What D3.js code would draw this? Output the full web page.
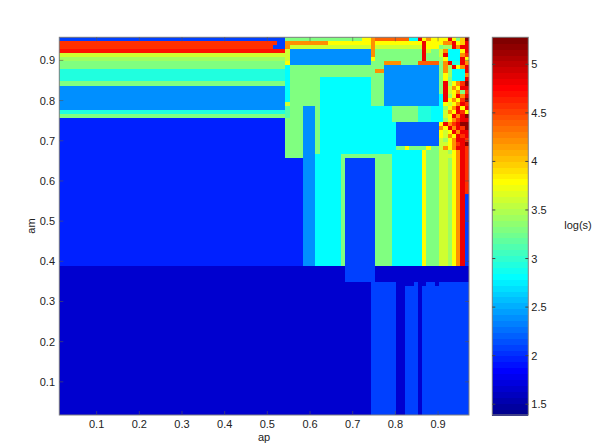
<!DOCTYPE html>
<html><head><meta charset="utf-8">
<script src="https://cdn.jsdelivr.net/npm/d3@7"></script>
<style>body{margin:0;background:#fff}svg{display:block}text{font-family:"Liberation Sans",Arial,sans-serif;fill:#222}</style>
</head><body><svg id="c" width="599" height="446"></svg>
<script>
// ---- data ----
const apFirstEdge = 0.0125, amFirstEdge = 0.0175, cellStep = 0.01;
const nAp = 96, nAm = 94;
const xTickValues = [0.1,0.2,0.3,0.4,0.5,0.6,0.7,0.8,0.9];
const yTickValues = [0.1,0.2,0.3,0.4,0.5,0.6,0.7,0.8,0.9];
const colorTicks = [1.5,2,2.5,3,3.5,4,4.5,5];
const colorDomain = [1.389, 5.278];
const levelCodes  = "abcdefghijklmnopqrstu";
const levelValues = [1.69,1.96,2.09,2.22,2.39,2.60,2.80,2.95,3.10,3.28,3.45,3.60,3.80,4.00,4.20,4.40,4.60,4.80,5.00,5.20,4.70];
// blocks of log(s): [first ap cell, last ap cell, first am row (from top), last am row, level]
const blocks = [
 [0,95,0,93,'b'],
 [0,72,57,93,'a'],[73,95,57,93,'c'],[74,95,57,60,'a'],[67,73,30,60,'c'],
 [79,80,61,93,'a'],[84,84,61,93,'a'],[81,82,61,61,'a'],[85,85,61,61,'a'],[88,88,61,61,'a'],
 [0,52,0,0,'c'],[0,50,1,1,'q'],[51,52,1,1,'c'],[0,49,2,2,'q'],[50,52,2,2,'c'],[0,52,3,3,'u'],
 [0,52,4,4,'l'],[0,52,5,5,'k'],[0,52,6,7,'j'],[0,52,8,10,'h'],[0,52,11,11,'j'],
 [0,52,12,17,'e'],[0,52,18,18,'h'],[0,52,19,19,'j'],
 [53,95,0,29,'j'],[54,72,0,0,'j'],[71,72,0,0,'m'],
 [53,53,1,2,'o'],[53,53,3,5,'l'],[53,53,6,6,'m'],[53,53,7,15,'g'],[53,53,16,16,'l'],[53,53,17,19,'i'],
 [54,62,1,1,'o'],[63,72,1,1,'m'],[54,72,2,2,'l'],[54,72,3,6,'e'],
 [61,75,10,28,'g'],[76,77,17,28,'g'],[57,59,17,56,'e'],[60,60,17,28,'j'],[60,65,29,56,'g'],
 [66,77,29,29,'j'],[66,66,29,56,'j'],[74,77,30,56,'j'],[78,84,28,56,'g'],[85,85,28,56,'m'],
 [86,88,28,56,'j'],[89,90,28,56,'l'],[91,91,28,56,'k'],[92,92,28,56,'m'],[93,93,28,56,'o'],[94,94,28,56,'r'],
 [95,95,28,38,'q'],[95,95,39,56,'c']
];
// cell-by-cell readings of the ragged top-right corner (ap cells 73..95, am rows 0..29 from top)
const patchFirstCell = 73, patchFirstRow = 0;
const patchRows = [
 "oppppppppggrmommmmrmjnt",
 "ommmmmmmmmmmrmmmmoormnr",
 "olllllllllllrmmmjkkrorr",
 "ojjjjjjjjjjjrljjlogggmr",
 "ojjjjjjjjjjjrjjjlrgggoq",
 "mjjjjjjjjjjjrjjjkmgggrm",
 "jjjoooojjjjpppppjorhhro",
 "jjjeeeeeeeeeeeeejokrmor",
 "jooeeeeeeeeeeeeejokgggr",
 "jjjeeeeeeeeeeeeejmkgggo",
 "jjjeeeeeeeeeeeeejmjgggr",
 "jjjeeeeeeeeeeeeejrkmoqt",
 "jjjeeeeeeeeeeeeejrlomrr",
 "jjjeeeeeeeeeeeeejrlmojq",
 "jjjeeeeeeeeeeeeegrkmror",
 "jjjeeeeeeeeeeeeegrmomqt",
 "jjjeeeeeeeeeeeeegmlmorq",
 "gggggjjjjjjhhhgggkmormr",
 "gggggjjjjjjhhhggglomrqm",
 "gggggjjjjjjhhhggglmrort",
 "gggggjjjjjjhhhgggkmoqrr",
 "ggggggddddddddddmroqrtt",
 "ggggggddddddddddomrorqt",
 "ggggggddddddddddmlmrorr",
 "ggggggddddddddddmlomrqr",
 "ggggggddddddddddlkmorrq",
 "ggggggddddddddddllmoqrt",
 "ggggggjjmjjjjmjjlomorrq",
 "ggggggggggggmjjjllkmorq",
 "jjjjjgggggggmjjjlllmorq"
];
// ---- build matrix ----
const grid = Array.from({length:nAm}, () => new Array(nAp).fill(0));
const lv = code => levelValues[levelCodes.indexOf(code)];
blocks.forEach(([c0,c1,r0,r1,code]) => {
  for (let r=r0;r<=r1;r++) for (let c=c0;c<=c1;c++) grid[r][c]=lv(code);
});
patchRows.forEach((s,i)=>{ for(let j=0;j<s.length;j++) grid[patchFirstRow+i][patchFirstCell+j]=lv(s[j]); });
// ---- jet colormap (64 levels) ----
function jet64(v){
  const t=(v-colorDomain[0])/(colorDomain[1]-colorDomain[0]);
  let r=Math.floor(t*64)+1; r=Math.max(1,Math.min(64,r));
  let R=0,G=0,B=0;
  if(r<=8){B=0.5+r/16;}
  else if(r<=24){G=(r-8)/16;B=1;}
  else if(r<=40){R=(r-24)/16;G=1;B=1-(r-24)/16;}
  else if(r<=56){R=1;G=1-(r-40)/16;}
  else {R=1-(r-56)/16;}
  return d3.rgb(R*255,G*255,B*255).formatHex();
}
// ---- layout ----
const svg=d3.select("#c");
const x=d3.scaleLinear().domain([apFirstEdge, apFirstEdge+nAp*cellStep]).range([59.3,469]);
const y=d3.scaleLinear().domain([amFirstEdge, amFirstEdge+nAm*cellStep]).range([415,37.3]);
const cells=svg.append("g").attr("shape-rendering","crispEdges");
grid.forEach((row,r)=>{
  const amTop=amFirstEdge+(nAm-r)*cellStep, amBot=amTop-cellStep;
  let c0=0;
  for(let c=1;c<=nAp;c++){
    if(c===nAp||row[c]!==row[c0]){
      const a0=apFirstEdge+c0*cellStep, a1=apFirstEdge+c*cellStep;
      cells.append("rect").attr("x",x(a0)).attr("y",y(amTop))
        .attr("width",x(a1)-x(a0)).attr("height",y(amBot)-y(amTop))
        .attr("fill",jet64(row[c0]));
      c0=c;
    }
  }
});
// axes frame & ticks
const frame=svg.append("g");
frame.append("rect").attr("x",59.3).attr("y",37.3).attr("width",469-59.3).attr("height",415-37.3)
  .attr("fill","none").attr("stroke","#808080").attr("stroke-width",1);
xTickValues.forEach(v=>{
  frame.append("line").attr("x1",x(v)).attr("x2",x(v)).attr("y1",415).attr("y2",411).attr("stroke","#555").attr("stroke-width",0.6);
  frame.append("line").attr("x1",x(v)).attr("x2",x(v)).attr("y1",37.3).attr("y2",41.3).attr("stroke","#555").attr("stroke-width",0.6);
  frame.append("text").attr("x",x(v)).attr("y",428).attr("text-anchor","middle").attr("font-size",11).text(v);
});
yTickValues.forEach(v=>{
  frame.append("line").attr("x1",59.3).attr("x2",63.3).attr("y1",y(v)).attr("y2",y(v)).attr("stroke","#555").attr("stroke-width",0.6);
  frame.append("line").attr("x1",465).attr("x2",469).attr("y1",y(v)).attr("y2",y(v)).attr("stroke","#555").attr("stroke-width",0.6);
  frame.append("text").attr("x",55).attr("y",y(v)+4).attr("text-anchor","end").attr("font-size",11).text(v);
});
svg.append("text").attr("x",264).attr("y",441).attr("text-anchor","middle").attr("font-size",11).text("ap");
svg.append("text").attr("transform","translate(35,226) rotate(-90)").attr("text-anchor","middle").attr("font-size",11).text("am");
// colorbar
const cb=d3.scaleLinear().domain(colorDomain).range([415,37.3]);
const cbx0=492.3, cbx1=528.3;
const cbg=svg.append("g").attr("shape-rendering","crispEdges");
d3.range(64).forEach(i=>{
  const v0=colorDomain[0]+i*(colorDomain[1]-colorDomain[0])/64, v1=colorDomain[0]+(i+1)*(colorDomain[1]-colorDomain[0])/64;
  cbg.append("rect").attr("x",cbx0).attr("y",cb(v1)).attr("width",cbx1-cbx0).attr("height",cb(v0)-cb(v1)+0.5)
    .attr("fill",jet64((v0+v1)/2));
});
svg.append("rect").attr("x",cbx0).attr("y",37.3).attr("width",cbx1-cbx0).attr("height",415-37.3)
  .attr("fill","none").attr("stroke","#808080");
colorTicks.forEach(v=>{
  svg.append("line").attr("x1",cbx0).attr("x2",cbx0+3).attr("y1",cb(v)).attr("y2",cb(v)).attr("stroke","#444");
  svg.append("line").attr("x1",cbx1-3).attr("x2",cbx1).attr("y1",cb(v)).attr("y2",cb(v)).attr("stroke","#444");
  svg.append("text").attr("x",cbx1+3).attr("y",cb(v)+4).attr("font-size",11).text(v);
});
svg.append("text").attr("x",578).attr("y",229).attr("text-anchor","middle").attr("font-size",11).text("log(s)");
</script></body></html>
